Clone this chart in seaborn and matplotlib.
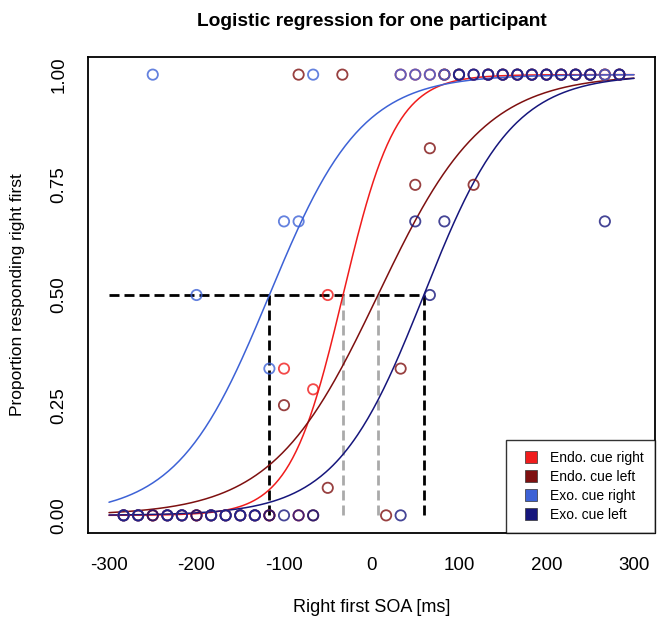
import numpy as np
import pandas as pd
import seaborn as sns
import matplotlib.pyplot as plt
from matplotlib.lines import Line2D

conditions = ['Endo. cue right', 'Endo. cue left', 'Exo. cue right', 'Exo. cue left']
colors = ['#f01c1c', '#7e1010', '#3d62d6', '#16167c']

# fitted logistic parameters: 50% point (ms) and slope
pss = [-32.5, 7.4, -116.7, 59.8]
slopes = [0.033, 0.0165, 0.019, 0.0198]

# observed proportions per SOA
soa_endo_right = [-283.3, -266.7, -250, -233.3, -216.7, -200, -183.3, -166.7, -150, -133.3, -116.7,
                  -100, -83.3, -66.7, -50,
                  33.3, 50, 66.7, 83.3, 100, 116.7, 133.3, 150, 166.7, 183.3, 200, 216.7, 233.3, 250, 266.7, 283.3]
p_endo_right = [0, 0, 0, 0, 0, 0, 0, 0, 0, 0, 0,
                0.333, 0, 0.286, 0.5,
                1, 1, 1, 1, 1, 1, 1, 1, 1, 1, 1, 1, 1, 1, 1, 1]

soa_endo_left = [-283.3, -266.7, -250, -233.3, -216.7, -200, -183.3, -166.7, -150, -133.3, -116.7,
                 -100, -83.3, -66.7, -50, -33.3, 16.7, 33.3, 50, 66.7, 83.3, 100, 116.7,
                 133.3, 150, 166.7, 183.3, 200, 216.7, 233.3, 250, 266.7, 283.3]
p_endo_left = [0, 0, 0, 0, 0, 0, 0, 0, 0, 0, 0,
               0.25, 1, 0, 0.0625, 1, 0, 0.333, 0.75, 0.833, 1, 1, 0.75,
               1, 1, 1, 1, 1, 1, 1, 1, 1, 1]

soa_exo_right = [-283.3, -266.7, -250, -233.3, -216.7, -200, -183.3, -166.7, -150, -133.3, -116.7,
                 -100, -83.3, -66.7,
                 33.3, 50, 66.7, 83.3, 100, 116.7, 133.3, 150, 166.7, 183.3, 200, 216.7, 233.3, 250, 266.7, 283.3]
p_exo_right = [0, 0, 1, 0, 0, 0.5, 0, 0, 0, 0, 0.333,
               0.667, 0.667, 1,
               1, 1, 1, 1, 1, 1, 1, 1, 1, 1, 1, 1, 1, 1, 1, 1]

soa_exo_left = [-283.3, -266.7, -250, -233.3, -216.7, -200, -183.3, -166.7, -150, -133.3, -116.7,
                -100, -83.3, -66.7,
                33.3, 50, 66.7, 83.3, 100, 116.7, 133.3, 150, 166.7, 183.3, 200, 216.7, 233.3, 250, 266.7, 283.3]
p_exo_left = [0, 0, 0, 0, 0, 0, 0, 0, 0, 0, 0,
              0, 0, 0,
              0, 0.667, 0.5, 0.667, 1, 1, 1, 1, 1, 1, 1, 1, 1, 1, 0.667, 1]

soas = [soa_endo_right, soa_endo_left, soa_exo_right, soa_exo_left]
props = [p_endo_right, p_endo_left, p_exo_right, p_exo_left]

points = pd.concat([pd.DataFrame({'soa': s, 'p': p, 'condition': c})
                    for s, p, c in zip(soas, props, conditions)], ignore_index=True)

grid = np.linspace(-300, 300, 301)
curves = pd.concat([pd.DataFrame({'soa': grid,
                                  'p': 1 / (1 + np.exp(-k * (grid - m))),
                                  'condition': c})
                    for m, k, c in zip(pss, slopes, conditions)], ignore_index=True)

sns.set_style('white')
plt.rcParams['font.family'] = ['Liberation Sans', 'DejaVu Sans']
plt.rcParams['axes.unicode_minus'] = False
plt.rcParams['text.color'] = 'black'
plt.rcParams['axes.labelcolor'] = 'black'

fig = plt.figure(figsize=(6.61, 6.26), dpi=100)
ax = fig.add_axes([88 / 661, 1 - 533 / 626, 567 / 661, 476 / 626])

palette = dict(zip(conditions, colors))

# dashed guides at the 50% points
ax.hlines(0.5, -300, pss[3], color='black', lw=2, linestyles=(0, (3.6, 1.8)), zorder=1)
ax.vlines([pss[2], pss[3]], 0, 0.5, color='black', lw=2, linestyles=(0, (3.6, 1.8)), zorder=1)
ax.vlines([pss[0], pss[1]], 0, 0.5, color='#aaaaaa', lw=2, linestyles=(0, (3.6, 1.8)), zorder=1)

sns.lineplot(data=curves, x='soa', y='p', hue='condition', palette=palette,
             lw=1.1, legend=False, ax=ax, zorder=2)

sns.scatterplot(data=points, x='soa', y='p', hue='condition', palette=palette,
                s=55, marker='o', linewidth=1.3, alpha=0.8, legend=False, ax=ax, zorder=3)
coll = ax.collections[-1]
coll.set_edgecolors(coll.get_facecolors())
coll.set_facecolors('none')

ax.set_xlim(-324, 324)
ax.set_ylim(-0.04, 1.04)
ax.set_xticks([-300, -200, -100, 0, 100, 200, 300])
ax.set_yticks([0, 0.25, 0.5, 0.75, 1.0])
ax.set_yticklabels(['0.00', '0.25', '0.50', '0.75', '1.00'], rotation=90, va='center')
ax.tick_params(direction='out', length=7, width=1, labelsize=13.5, pad=8, colors='black')
ax.tick_params(axis='x', pad=10)
for sp in ax.spines.values():
    sp.set_color('black')
    sp.set_linewidth(1.3)

ax.set_xlabel('Right first SOA [ms]', fontsize=13, labelpad=18)
ax.set_ylabel('Proportion responding right first', fontsize=12.5, labelpad=18)
ax.set_title('Logistic regression for one participant', fontsize=13.8, fontweight='bold', pad=22)

handles = [Line2D([], [], marker='s', ls='none', markersize=8, markerfacecolor=c,
                  markeredgecolor='#333333', markeredgewidth=0.5) for c in colors]
leg = ax.legend(handles, conditions, loc='lower right', fontsize=10, frameon=True,
                fancybox=False, borderaxespad=0, handletextpad=0.4, labelspacing=0.35,
                borderpad=0.8)
leg.get_frame().set_edgecolor('black')
leg.get_frame().set_linewidth(1)

fig.savefig('out.png', dpi=100)
